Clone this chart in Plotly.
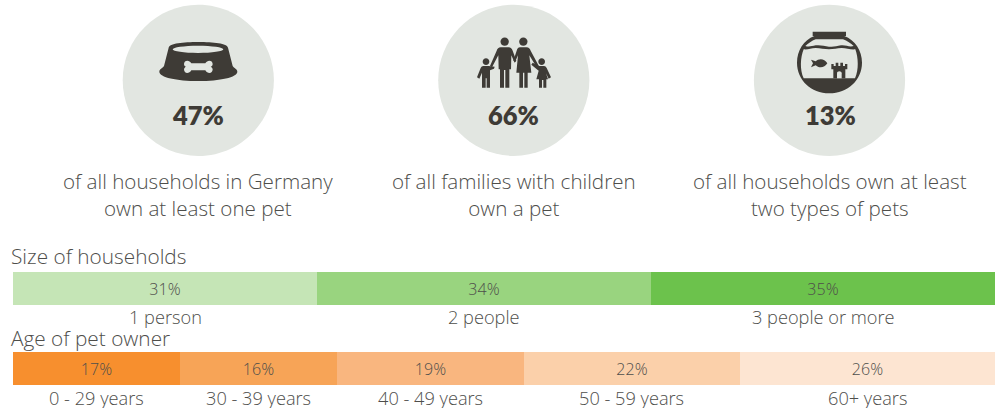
import re
import plotly.graph_objects as go

# Household size split
size_labels = ["1 person", "2 people", "3 people or more"]
size_values = [31, 34, 35]
size_colors = ["#c5e5b6", "#99d47f", "#6cc24c"]

# Owner age split
age_labels = ["0 - 29 years", "30 - 39 years", "40 - 49 years", "50 - 59 years", "60+ years"]
age_values = [17, 16, 19, 22, 26]
age_colors = ["#f78f2e", "#f7a457", "#f9b67f", "#fbd0aa", "#fde5d2"]

# Headline figures
headline_values = ["47%", "66%", "13%"]
headline_captions = [
    "of all households in Germany<br>own at least one pet",
    "of all families with children<br>own a pet",
    "of all households own at least<br>two types of pets",
]

FONT = "Open Sans"
TEXT = "#4e4e4b"
DARK = "#3e3b36"
DISC = "#e2e6e1"
W, H = 1005, 408

fig = go.Figure()


def add_split(values, labels, colors, xa, ya):
    for v, lab, col in zip(values, labels, colors):
        fig.add_trace(go.Bar(
            x=[v], y=[0], orientation="h", marker=dict(color=col, line_width=0),
            text=[f"{v}%"], textposition="inside", insidetextanchor="middle",
            textangle=0, constraintext="none",
            textfont=dict(family=FONT, size=16, color=TEXT, weight=300),
            name=lab, xaxis=xa, yaxis=ya, hoverinfo="name+x",
        ))


add_split(size_values, size_labels, size_colors, "x", "y")
add_split(age_values, age_labels, age_colors, "x2", "y2")
# Empty trace that keeps the canvas axes alive
fig.add_trace(go.Scatter(x=[None], y=[None], xaxis="x3", yaxis="y3", hoverinfo="skip"))

shapes = []


def draw(path, color, ox=0, oy=0, s=1.0, line=0):
    """Add a filled path given in local icon units, placed on the pixel canvas."""
    nums = iter(range(10**6))

    def repl(m):
        v = float(m.group(0))
        return f"{(ox + v * s) if next(nums) % 2 == 0 else (oy + v * s):.2f}"

    d = re.sub(r"-?\d+(?:\.\d+)?", repl, path)
    shapes.append(dict(type="path", path=d, xref="x3", yref="y3", fillcolor=color,
                       line=dict(width=line, color=color), layer="above"))


def round_path(cx, cy, rx, ry=None):
    ry = rx if ry is None else ry
    kx, ky = rx * 0.5523, ry * 0.5523
    return (f"M{cx - rx} {cy} C{cx - rx} {cy - ky} {cx - kx} {cy - ry} {cx} {cy - ry} "
            f"C{cx + kx} {cy - ry} {cx + rx} {cy - ky} {cx + rx} {cy} "
            f"C{cx + rx} {cy + ky} {cx + kx} {cy + ry} {cx} {cy + ry} "
            f"C{cx - kx} {cy + ry} {cx - rx} {cy + ky} {cx - rx} {cy} Z")


# Discs behind the icons
for cx in (198.3, 513.8, 829.5):
    draw(round_path(cx, 80.3, 75.6), DISC)

# Dog bowl, units are a third of a pixel
b = dict(ox=110, oy=0, s=1 / 3)
draw("M176 143 C178 130 220 126 265 126 C310 126 352 130 354 143 L368 198 C372 204 382 208 382 215 "
     "C382 232 330 243 265 243 C200 243 148 232 148 215 C148 208 158 204 162 198 Z", DARK, **b)
draw(round_path(264, 148, 76, 11), DISC, **b)
draw("M222 192 C222 180 238 178 244 190 L286 190 C292 178 308 180 308 192 C308 198 304 200 302 200 "
     "C304 201 308 204 308 208 C308 222 292 222 286 211 L244 211 C238 222 222 222 222 208 "
     "C222 204 226 201 228 200 C226 200 222 198 222 192 Z", DISC, **b)

# Family, units are a third of a pixel
f = dict(ox=430, oy=10, s=1 / 3)
for hx, hy, r in ((224, 95, 12.5), (280, 95, 12.5), (168, 155, 10), (335, 155, 10)):
    draw(round_path(hx, hy, r), DARK, **f)
# father
draw("M212 112 L236 112 C242 112 246 116 248 122 L259 152 L254 158 L244 136 L243 178 L238 178 L238 233 "
     "L226 233 L226 180 L222 180 L222 233 L210 233 L210 178 L206 178 L205 136 L186 172 L180 168 L200 122 "
     "C202 116 206 112 212 112 Z", DARK, **f)
# mother
draw("M270 112 L290 112 C296 112 300 116 302 122 L326 167 L320 172 L298 136 L304 188 L293 188 L293 233 "
     "L283 233 L283 188 L279 188 L279 233 L268 233 L268 188 L259 188 L264 136 L255 156 L250 152 L260 122 "
     "C262 116 264 112 270 112 Z", DARK, **f)
# boy
draw("M160 168 L176 168 L194 170 L192 176 L180 181 L180 233 L170 233 L170 205 L167 205 L167 233 L156 233 "
     "L156 188 L148 206 L141 202 L152 174 C154 170 156 168 160 168 Z", DARK, **f)
# girl
draw("M328 168 L342 168 C346 168 348 170 350 174 L363 202 L356 206 L348 190 L354 208 L349 208 L349 233 "
     "L340 233 L340 210 L336 210 L336 233 L327 233 L327 208 L319 208 L326 182 L304 164 L308 158 Z", DARK, **f)

# Fish bowl, units are a third of a pixel
g = dict(ox=745, oy=10, s=1 / 3)
draw("M203 65 L303 65 L303 78 L298 78 C330 90 351 122 351 158 C351 210 308 250 253 250 "
     "C198 250 156 210 156 158 C156 122 176 90 208 78 L203 78 Z", DARK, **g)
draw("M212 88 L294 88 C306 93 318 100 326 108 C312 112 302 104 288 106 C274 108 266 112 252 110 "
     "C238 108 226 104 212 106 C200 108 192 112 181 108 C190 100 200 93 212 88 Z", DISC, **g)
draw("M176 118 C188 120 198 114 212 114 C226 114 238 118 252 118 C266 118 276 114 290 114 "
     "C304 114 318 120 331 118 C340 142 342 180 330 205 L176 205 C164 180 166 142 176 118 Z", DISC, **g)
draw("M198 149 L212 154 C220 146 238 144 247 160 C238 176 220 174 212 166 L198 172 L204 160 Z", DARK, **g)
draw("M259 162 L266 162 L266 168 L272 168 L272 158 L280 158 L280 168 L286 168 L286 158 L294 158 "
     "L294 168 L300 168 L300 162 L307 162 L307 178 L301 178 L301 205 L265 205 L265 178 L259 178 Z", DARK, **g)
draw("M276 205 L276 190 C276 182 290 182 290 190 L290 205 Z", DISC, **g)

annotations = []


def label(x, y, text, size, anchor="center", weight=300, color=TEXT, xref="x3", family=FONT):
    annotations.append(dict(x=x, y=y, text=text, xref=xref, yref="y3", showarrow=False,
                            xanchor=anchor, yanchor="middle", align="center",
                            font=dict(family=family, size=size, color=color, weight=weight)))


for cx, val, cap in zip((198, 513.5, 830), headline_values, headline_captions):
    label(cx, 115, val, 25.5, weight=800, color=DARK, family="Lato")
    label(cx, 194, cap, 20.6)

label(9, 255.5, "Size of households", 20.8, anchor="left")
label(9, 337.5, "Age of pet owner", 20.8, anchor="left")


def segment_labels(values, labels, xref, y):
    start = 0
    for v, lab in zip(values, labels):
        label(start + v / 2, y, lab, 18.2, xref=xref)
        start += v


segment_labels(size_values, size_labels, "x", 316.5)
segment_labels(age_values, age_labels, "x2", 398)

hidden = dict(visible=False, fixedrange=True)
bar_domain = [13 / W, 995 / W]
fig.update_layout(
    width=W, height=H, margin=dict(l=0, r=0, t=0, b=0), autosize=False,
    paper_bgcolor="white", plot_bgcolor="rgba(0,0,0,0)", showlegend=False, barmode="stack", bargap=0,
    xaxis=dict(domain=bar_domain, range=[0, 100], anchor="y", **hidden),
    yaxis=dict(domain=[1 - 305 / H, 1 - 272 / H], range=[-0.5, 0.5], anchor="x", **hidden),
    xaxis2=dict(domain=bar_domain, range=[0, 100], anchor="y2", **hidden),
    yaxis2=dict(domain=[1 - 385 / H, 1 - 352 / H], range=[-0.5, 0.5], anchor="x2", **hidden),
    xaxis3=dict(domain=[0, 1], range=[0, W], anchor="y3", **hidden),
    yaxis3=dict(domain=[0, 1], range=[H, 0], anchor="x3", **hidden),
    shapes=shapes, annotations=annotations,
)

fig.write_html("out.html", config=dict(displayModeBar=False))
